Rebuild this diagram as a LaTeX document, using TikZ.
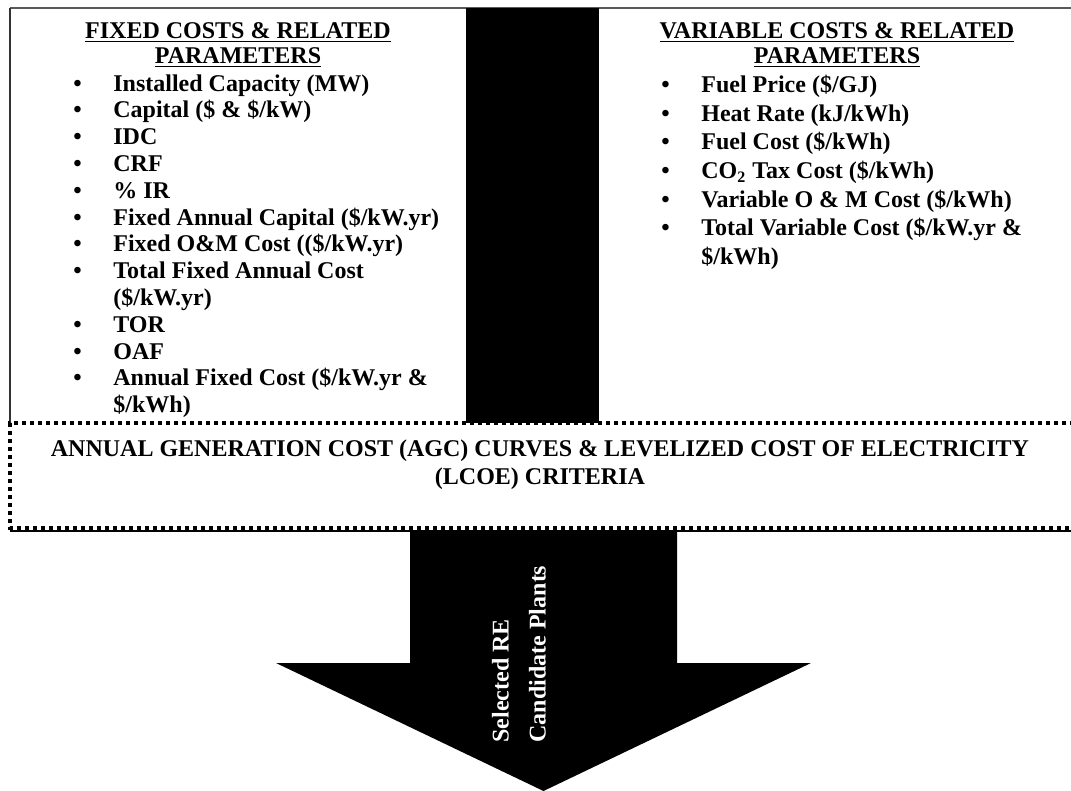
\documentclass[tikz,border=0pt]{standalone}
\usepackage{fontspec}
\setmainfont{Liberation Serif}
\usetikzlibrary{positioning}

\newcommand{\bitem}[1]{\par\noindent\hangindent=20pt\hangafter=1\makebox[20pt][l]{\textbullet}#1}
\newcommand{\plistbox}[1]{\begin{minipage}[t]{200pt}\raggedright#1\par\end{minipage}}

\begin{document}
\begin{tikzpicture}[
    x=0.5pt, y=-0.5pt,
    head/.style={font=\bfseries\fontsize{12}{12.5}\selectfont, align=center, inner sep=0pt, anchor=north},
    plist/.style={font=\bfseries\fontsize{12}{13.4}\selectfont, inner sep=0pt, anchor=north west},
    band/.style={draw, line width=2pt, dash pattern=on 2pt off 2pt},
    label/.style={font=\bfseries\fontsize{12}{18.5}\selectfont, text=white, align=left, inner sep=0pt, rotate=90}
]
\useasboundingbox (0,0) rectangle (1071,791);

% upper frame and the black divider
\draw[black!65, line width=1pt] (10,8) -- (1090,8);
\draw[black!80, line width=1pt] (10,8) -- (10,423);
\fill (466,8) rectangle (599,423);

% fixed costs
\node [head] (fixedhead) at (238,22) {\underline{FIXED COSTS \& RELATED}\\\underline{PARAMETERS}};
\node [plist] (fixedlist) at (73,74) {\plistbox{%
  \bitem{Installed Capacity (MW)}
  \bitem{Capital (\$ \& \$/kW)}
  \bitem{IDC}
  \bitem{CRF}
  \bitem{\% IR}
  \bitem{Fixed Annual Capital (\$/kW.yr)}
  \bitem{Fixed O\&M Cost ((\$/kW.yr)}
  \bitem{Total Fixed Annual Cost\newline (\$/kW.yr)}
  \bitem{TOR}
  \bitem{OAF}
  \bitem{Annual Fixed Cost (\$/kW.yr \&\newline \$/kWh)}}};

% variable costs
\node [head] (varhead) at (837,22) {\underline{VARIABLE COSTS \& RELATED}\\\underline{PARAMETERS}};
\node [plist, font=\bfseries\fontsize{12}{14.3}\selectfont] (varlist) at (661,75) {\plistbox{%
  \bitem{Fuel Price (\$/GJ)}
  \bitem{Heat Rate (kJ/kWh)}
  \bitem{Fuel Cost (\$/kWh)}
  \bitem{CO\textsubscript{2} Tax Cost (\$/kWh)}
  \bitem{Variable O \& M Cost (\$/kWh)}
  \bitem{Total Variable Cost (\$/kW.yr \&\newline \$/kWh)}}};

% output arrow
\fill (410,530) -- (677,530) -- (677,663) -- (811,663) -- (543.5,791) -- (276,663) -- (410,663) -- cycle;
\node [label] (selected) at (519,654) {Selected RE\\Candidate Plants};

% AGC / LCOE band
\fill[white] (12,425) rectangle (1090,527);
\draw [band] (1090,423) -- (10,423) -- (10,528) -- (1090,528);
\draw [line width=0.6pt] (10,531) -- (1090,531);
\node [head, anchor=center, font=\bfseries\fontsize{12}{14}\selectfont] (agc) at (540,465)
  {ANNUAL GENERATION COST (AGC) CURVES \& LEVELIZED COST OF ELECTRICITY\\(LCOE) CRITERIA};

\end{tikzpicture}
\end{document}
